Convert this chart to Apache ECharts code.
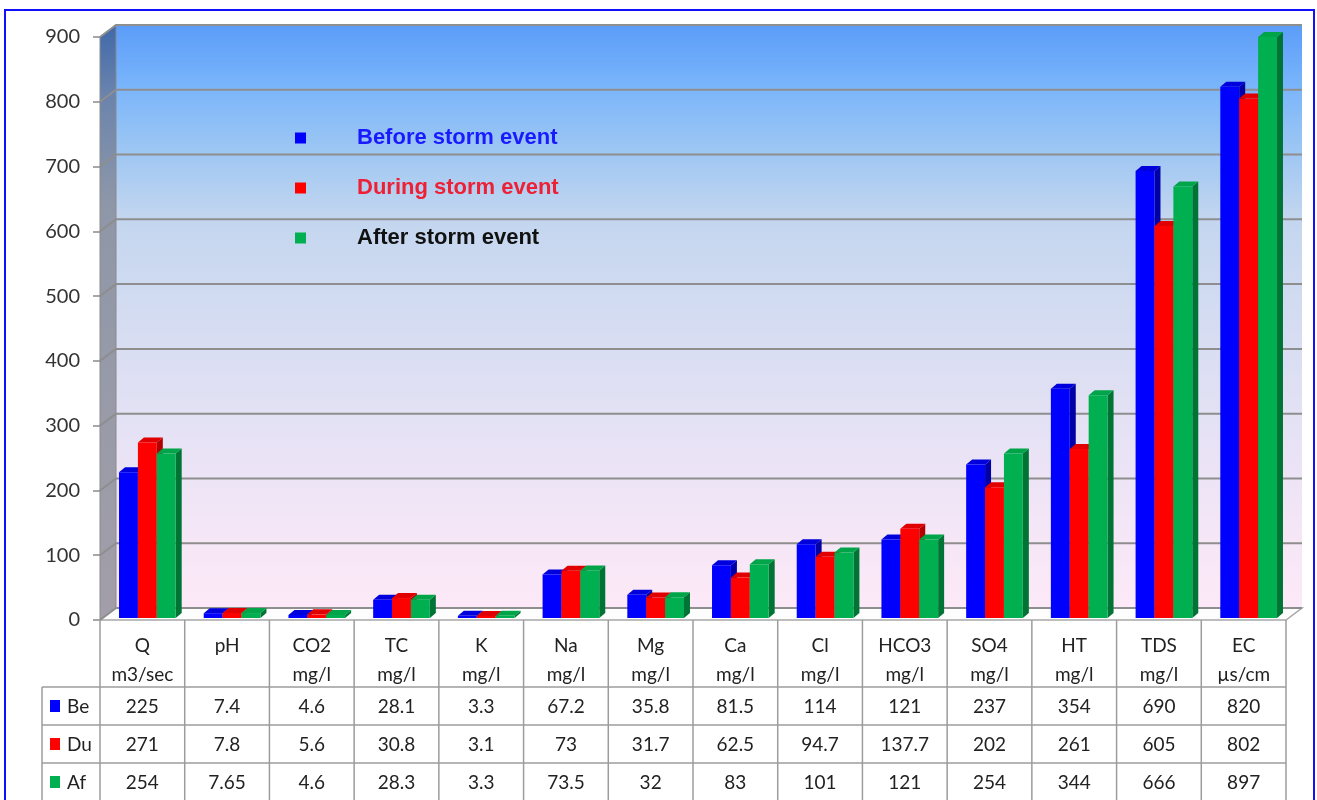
<!DOCTYPE html>
<html>
<head>
<meta charset="utf-8">
<title>Water quality parameters before, during and after storm event</title>
<script src="https://cdn.jsdelivr.net/npm/echarts@6.0.0/dist/echarts.min.js"></script>
<style>
  html, body { margin: 0; padding: 0; background: #ffffff; }
  #chart { width: 1317px; height: 800px; }
</style>
</head>
<body>
<div id="chart"></div>
<script>
// Parameters measured at the station and their units
const categories = ['Q', 'pH', 'CO2', 'TC', 'K', 'Na', 'Mg', 'Ca', 'Cl', 'HCO3', 'SO4', 'HT', 'TDS', 'EC'];
const units = ['m3/sec', '', 'mg/l', 'mg/l', 'mg/l', 'mg/l', 'mg/l', 'mg/l', 'mg/l', 'mg/l', 'mg/l', 'mg/l', 'mg/l', 'µs/cm'];

// Values per period
const beforeValues = [225, 7.4, 4.6, 28.1, 3.3, 67.2, 35.8, 81.5, 114, 121, 237, 354, 690, 820];
const duringValues = [271, 7.8, 5.6, 30.8, 3.1, 73, 31.7, 62.5, 94.7, 137.7, 202, 261, 605, 802];
const afterValues  = [254, 7.65, 4.6, 28.3, 3.3, 73.5, 32, 83, 101, 121, 254, 344, 666, 897];

const seriesNames = ['Before storm event', 'During storm event', 'After storm event'];
const rowLabels = ['Be', 'Du', 'Af'];

// Value axis
const Y_MIN = 0, Y_MAX = 900, Y_STEP = 100;

// Shading of the three faces of each column
const FACES = [
  { front: '#0000ff', top: '#0000dc', side: '#0000a6' },
  { front: '#ff0000', top: '#e00000', side: '#b00000' },
  { front: '#00b050', top: '#00a449', side: '#007435' }
];
const legendTextColors = ['#1a1aff', '#ee2035', '#111111'];

// Pseudo-3D geometry
const WALL_DX = 16, WALL_DY = -12;   // depth of the back wall
const BAR_DX = 6, BAR_DY = -5;       // depth of a column
const BAR_SHIFT_X = 5, BAR_SHIFT_Y = -2;
const BAR_FRACTION = 0.223;          // one column width as a share of the band

// Data table below the plot
const HEAD_H = 67, ROW_H = 38, KEY_LEFT = 42;
const TABLE_FONT = 'Lato, "Open Sans", sans-serif';

const chart = echarts.init(document.getElementById('chart'), null, { renderer: 'canvas' });

function wallRenderItem(params, api) {
  const cs = params.coordSys;
  const x0 = cs.x, x1 = cs.x + cs.width;
  const yTop = api.coord([0, Y_MAX])[1];
  const yBot = api.coord([0, Y_MIN])[1];
  const children = [];
  children.push({
    type: 'rect',
    shape: { x: x0 + WALL_DX, y: yTop + WALL_DY, width: x1 - x0, height: yBot - yTop },
    style: {
      fill: new echarts.graphic.LinearGradient(0, 0, 0, 1, [
        { offset: 0, color: '#5b9cf8' },
        { offset: 0.1, color: '#78b4fb' },
        { offset: 0.2, color: '#98c4f4' },
        { offset: 0.33, color: '#c3d6ef' },
        { offset: 0.5, color: '#d4dcf1' },
        { offset: 0.7, color: '#e6e2f5' },
        { offset: 0.85, color: '#f3e6f6' },
        { offset: 1, color: '#fde9f7' }
      ])
    }
  });
  children.push({
    type: 'polygon',
    shape: { points: [[x0, yTop], [x0 + WALL_DX, yTop + WALL_DY], [x0 + WALL_DX, yBot + WALL_DY], [x0, yBot]] },
    style: {
      fill: new echarts.graphic.LinearGradient(0, 0, 0, 1, [
        { offset: 0, color: '#3f68aa' },
        { offset: 0.12, color: '#6b84ad' },
        { offset: 0.3, color: '#8e97a8' },
        { offset: 1, color: '#a39ea9' }
      ]),
      stroke: '#8a8a8a', lineWidth: 1
    }
  });
  children.push({
    type: 'polygon',
    shape: { points: [[x0, yBot], [x0 + WALL_DX, yBot + WALL_DY], [x1 + WALL_DX, yBot + WALL_DY], [x1, yBot]] },
    style: { fill: '#fdfdfd', stroke: '#a8a8a8', lineWidth: 1.5 }
  });
  for (let v = Y_MIN; v <= Y_MAX; v += Y_STEP) {
    const y = api.coord([0, v])[1];
    children.push({
      type: 'polyline',
      shape: { points: [[x0, y], [x0 + WALL_DX, y + WALL_DY], [x1 + WALL_DX, y + WALL_DY]] },
      style: { stroke: '#8e8e8e', lineWidth: 2, fill: null }
    });
  }
  return { type: 'group', children };
}

function makeBarSeries(k, values) {
  const face = FACES[k];
  return {
    type: 'custom',
    name: seriesNames[k],
    coordinateSystem: 'cartesian2d',
    itemStyle: { color: face.front },
    z: 3 + k,
    data: values.map((v, i) => [i, v]),
    renderItem(params, api) {
      const i = api.value(0), v = api.value(1);
      const base = api.coord([i, 0]);
      const top = api.coord([i, v]);
      const band = api.size([1, 0])[0];
      const w = band * BAR_FRACTION;
      const left = base[0] + BAR_SHIFT_X + (k - 1.5) * w;
      const right = left + w;
      const yb = base[1] + BAR_SHIFT_Y;
      const yt = top[1] + BAR_SHIFT_Y;
      return {
        type: 'group',
        children: [
          { type: 'polygon',
            shape: { points: [[right, yt], [right + BAR_DX, yt + BAR_DY], [right + BAR_DX, yb + BAR_DY], [right, yb]] },
            style: { fill: face.side } },
          { type: 'polygon',
            shape: { points: [[left, yt], [left + BAR_DX, yt + BAR_DY], [right + BAR_DX, yt + BAR_DY], [right, yt]] },
            style: { fill: face.top } },
          { type: 'rect',
            shape: { x: left, y: yt, width: w, height: yb - yt },
            style: { fill: face.front } }
        ]
      };
    }
  };
}

const tableRows = [beforeValues, duringValues, afterValues];

function tableRenderItem(params, api) {
  const i = api.value(0);
  const c = api.coord([i, Y_MIN]);
  const band = api.size([1, 0])[0];
  const xl = c[0] - band / 2, xr = c[0] + band / 2;
  const y0 = c[1];
  const yRows = y0 + HEAD_H;
  const yEnd = yRows + ROW_H * tableRows.length;
  const lineStyle = { stroke: '#9c9c9c', lineWidth: 1.5 };
  const children = [];
  children.push({ type: 'line', shape: { x1: xl, y1: y0, x2: xl, y2: yEnd }, style: lineStyle });
  if (i === categories.length - 1) {
    children.push({ type: 'line', shape: { x1: xr, y1: y0, x2: xr, y2: yEnd }, style: lineStyle });
  }
  const lineLeft = i === 0 ? KEY_LEFT : xl;
  for (let r = 0; r <= tableRows.length; r++) {
    const y = yRows + r * ROW_H;
    children.push({ type: 'line', shape: { x1: lineLeft, y1: y, x2: xr, y2: y }, style: lineStyle });
  }
  tableRows.forEach((row, r) => {
    children.push({
      type: 'text',
      style: {
        text: String(row[i]), x: c[0], y: yRows + r * ROW_H + ROW_H / 2 + 1,
        fill: '#222222', fontSize: 19, fontFamily: TABLE_FONT,
        align: 'center', verticalAlign: 'middle'
      }
    });
  });
  if (i === 0) {
    children.push({ type: 'line', shape: { x1: KEY_LEFT, y1: yRows, x2: KEY_LEFT, y2: yEnd }, style: lineStyle });
    rowLabels.forEach((lab, r) => {
      const yc = yRows + r * ROW_H + ROW_H / 2;
      children.push({ type: 'rect', shape: { x: KEY_LEFT + 8, y: yc - 6, width: 10, height: 12 }, style: { fill: FACES[r].front } });
      children.push({
        type: 'text',
        style: {
          text: lab, x: KEY_LEFT + 25, y: yc + 1,
          fill: '#222222', fontSize: 19, fontFamily: TABLE_FONT,
          align: 'left', verticalAlign: 'middle'
        }
      });
    });
  }
  return { type: 'group', children };
}

const option = {
  animation: false,
  backgroundColor: '#ffffff',
  grid: { left: 100, right: 31, top: 37, bottom: 180, outerBoundsMode: 'none' },
  legend: {
    orient: 'vertical',
    left: 295,
    top: 127,
    padding: 0,
    itemWidth: 11,
    itemHeight: 11,
    itemGap: 28,
    icon: 'rect',
    selectedMode: false,
    data: seriesNames.map((n, k) => ({ name: n, textStyle: { color: legendTextColors[k] } })),
    textStyle: {
      fontFamily: '"Liberation Sans", Arial, sans-serif',
      fontWeight: 'bold',
      fontSize: 22,
      padding: [0, 0, 0, 46]
    }
  },
  xAxis: {
    type: 'category',
    data: categories,
    axisLine: { show: false },
    axisTick: { show: false },
    splitLine: { show: false },
    axisLabel: {
      interval: 0,
      margin: 11,
      color: '#222222',
      fontSize: 19,
      lineHeight: 29,
      fontFamily: TABLE_FONT,
      formatter: (val, idx) => val + '\n' + (units[idx] || ' ')
    }
  },
  yAxis: {
    type: 'value',
    min: Y_MIN,
    max: Y_MAX,
    interval: Y_STEP,
    axisLine: { show: false },
    axisTick: { show: true, length: 7, lineStyle: { color: '#8a8a8a', width: 1.5 } },
    splitLine: { show: false },
    axisLabel: {
      margin: 20,
      color: '#333333',
      fontSize: 20,
      fontFamily: TABLE_FONT
    }
  },
  graphic: [{
    type: 'rect',
    z: 100,
    shape: { x: 5, y: 10, width: 1309, height: 900 },
    style: { fill: 'none', stroke: '#1010ff', lineWidth: 2 }
  }],
  series: [
    { type: 'custom', name: 'walls', coordinateSystem: 'cartesian2d', z: 1, silent: true,
      data: [[0, 0]], renderItem: wallRenderItem },
    makeBarSeries(0, beforeValues),
    makeBarSeries(1, duringValues),
    makeBarSeries(2, afterValues),
    { type: 'custom', name: 'table', coordinateSystem: 'cartesian2d', z: 10, silent: true,
      data: categories.map((c, i) => [i, 0]), renderItem: tableRenderItem }
  ]
};

chart.setOption(option);
</script>
</body>
</html>
